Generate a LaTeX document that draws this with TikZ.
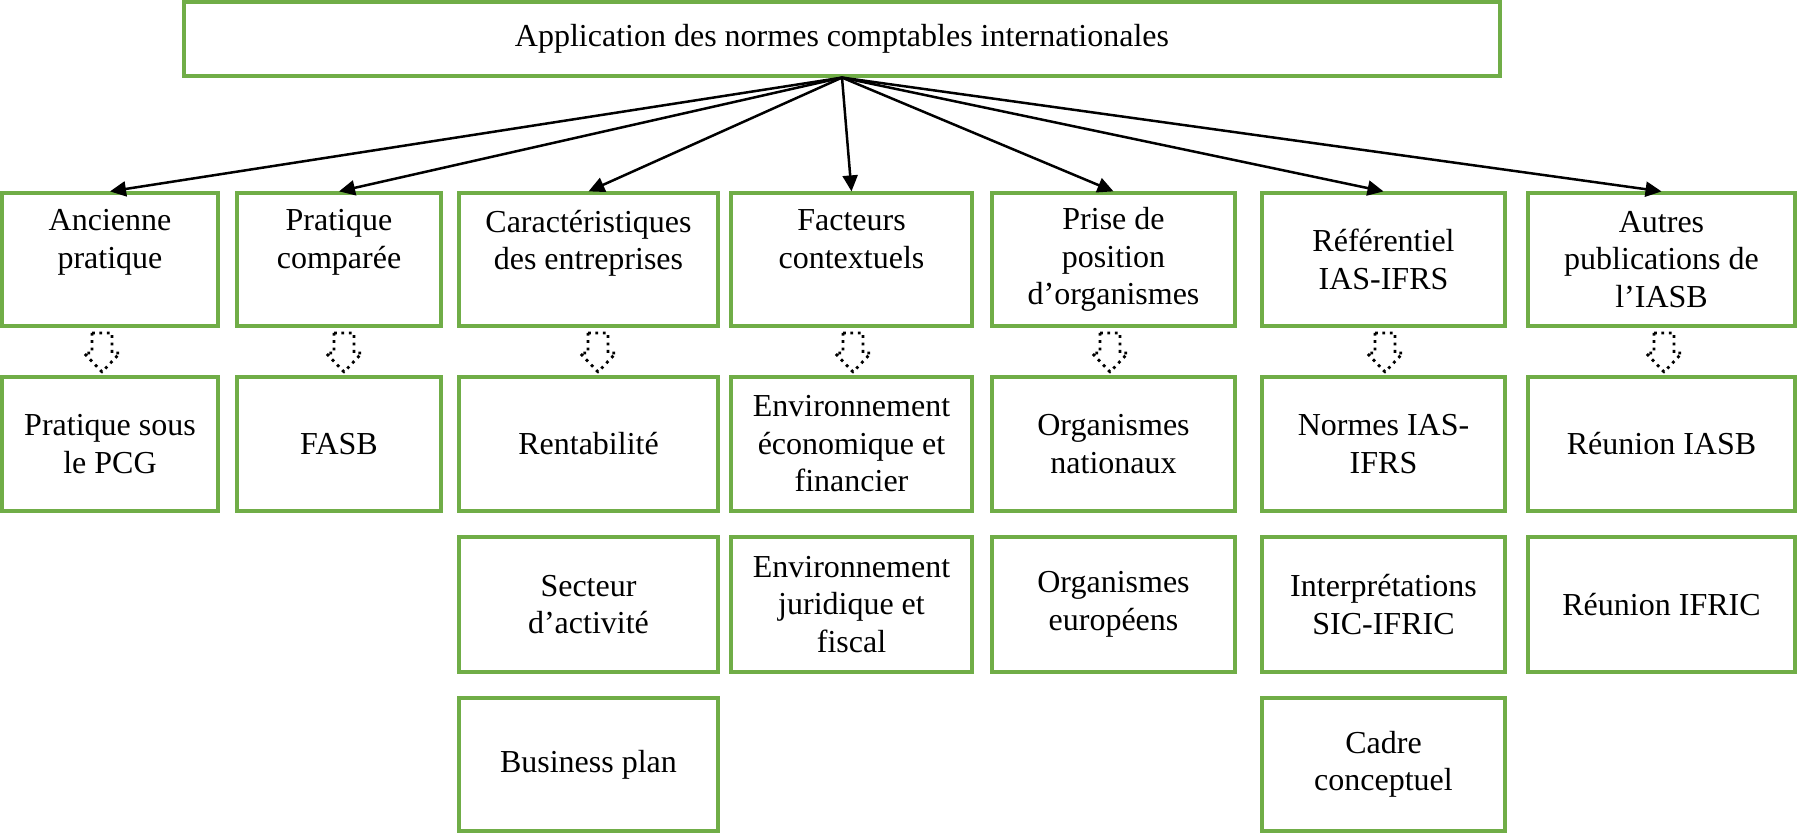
\documentclass[tikz,border=0pt]{standalone}
\usepackage{fontspec}
\setmainfont{Liberation Serif}
\usetikzlibrary{arrows.meta}
\definecolor{boxgreen}{RGB}{112,173,71}
\newcommand\mybox[6]{\node[box, minimum width={(#4-#2)*0.5pt}, minimum height={(#5-#3)*0.5pt}] (#1) at ({(#2+#4)/2},{(#3+#5)/2}) {#6};}
\begin{document}
\begin{tikzpicture}[x=0.5pt,y=-0.5pt,
  box/.style={draw=boxgreen, line width=1.6pt, inner sep=0pt, align=center, font=\fontsize{16}{18.75}\selectfont},
  lbl/.style={inner sep=0pt, align=center, font=\fontsize{16}{18.75}\selectfont},
  conn/.style={line width=1.25pt, -{Triangle[length=8pt,width=7.5pt]}},
  dotarrow/.style={line width=1.4pt, dash pattern=on 1.4pt off 2.3pt, line join=round},
  darrow/.pic={\draw[dotarrow] (-10,0) -- (10,0) -- (10,20) -- (18,20) -- (0,39) -- (-18,20) -- (-10,20) -- cycle;}
]
\useasboundingbox (0,0) rectangle (1798,833);

% top
\mybox{top}{184}{2}{1500}{76}{Application des normes comptables internationales}

% row 1
\mybox{a1}{2}{193}{218}{326}{}
\mybox{a2}{237}{193}{441}{326}{}
\mybox{a3}{459}{193}{718}{326}{}
\mybox{a4}{731}{193}{972}{326}{}
\mybox{a5}{992}{193}{1235}{326}{Prise de\\position\\d’organismes}
\mybox{a6}{1262}{193}{1505}{326}{Référentiel\\IAS-IFRS}
\mybox{a7}{1528}{193}{1795}{326}{Autres\\publications de\\l’IASB}
\node[lbl, anchor=north, yshift=-9pt] (t1) at (a1.north) {Ancienne\\pratique};
\node[lbl, anchor=north, yshift=-9pt] (t2) at (a2.north) {Pratique\\comparée};
\node[lbl, anchor=north, yshift=-9pt] (t3) at (a3.north) {Caractéristiques\\des entreprises};
\node[lbl, anchor=north, yshift=-9pt] (t4) at (a4.north) {Facteurs\\contextuels};

% row 2
\mybox{b1}{2}{377}{218}{511}{Pratique sous\\le PCG}
\mybox{b2}{237}{377}{441}{511}{FASB}
\mybox{b3}{459}{377}{718}{511}{Rentabilité}
\mybox{b4}{731}{377}{972}{511}{Environnement\\économique et\\financier}
\mybox{b5}{992}{377}{1235}{511}{Organismes\\nationaux}
\mybox{b6}{1262}{377}{1505}{511}{Normes IAS-\\IFRS}
\mybox{b7}{1528}{377}{1795}{511}{Réunion IASB}

% row 3
\mybox{c3}{459}{537}{718}{672}{Secteur\\d’activité}
\mybox{c4}{731}{537}{972}{672}{Environnement\\juridique et\\fiscal}
\mybox{c5}{992}{537}{1235}{672}{Organismes\\européens}
\mybox{c6}{1262}{537}{1505}{672}{Interprétations\\SIC-IFRIC}
\mybox{c7}{1528}{537}{1795}{672}{Réunion IFRIC}

% row 4
\mybox{d3}{459}{698}{718}{831}{Business plan}
\mybox{d6}{1262}{698}{1505}{831}{Cadre\\conceptuel}

% connectors
\foreach \n in {a1,a2,a3,a4,a5,a6,a7}
  \draw[conn] (top.south) -- (\n.north);

% dotted block arrows
\foreach \cx in {102,344,598,853,1110,1385,1664}
  \pic at (\cx,333) {darrow};
\end{tikzpicture}
\end{document}
